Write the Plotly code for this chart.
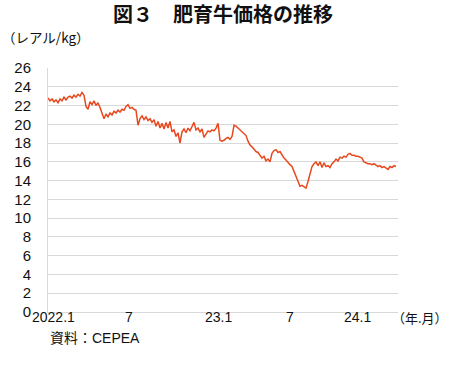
import plotly.graph_objects as go

# Fattened cattle price (reais/kg), sampled evenly over Jan 2022 - early 2024
price = [
    22.8, 22.5, 22.7, 22.4, 22.6, 22.3, 22.7, 22.5, 22.9, 22.6,
    22.9, 23.0, 22.8, 23.1, 22.9, 23.2, 23.0, 23.4, 23.1, 21.9,
    21.6, 22.4, 22.1, 22.5, 22.0, 22.3, 21.8, 21.2, 20.6, 21.1,
    20.8, 21.2, 21.0, 21.4, 21.2, 21.5, 21.3, 21.6, 21.5, 21.9,
    22.1, 21.7, 21.8, 21.6, 21.5, 19.9, 20.6, 20.9, 20.5, 20.8,
    20.4, 20.6, 20.2, 20.5, 19.8, 20.3, 19.6, 20.1, 19.5, 20.2,
    19.6, 20.3, 19.2, 19.4, 18.7, 19.1, 18.0, 19.2, 19.5, 19.1,
    19.6, 19.3, 19.7, 20.2, 19.4, 19.6, 19.2, 19.5, 18.6, 19.0,
    19.3, 19.2, 19.4, 19.3, 19.6, 20.1, 18.3, 18.2, 18.3, 18.5,
    18.6, 18.4, 18.7, 19.9, 19.8, 19.6, 19.4, 19.3, 19.0, 18.8,
    18.2, 17.8, 17.6, 17.3, 17.1, 17.0, 16.7, 16.4, 16.6, 16.1,
    16.3, 16.0, 16.9, 17.2, 17.3, 17.0, 17.1, 16.7, 16.4, 16.2,
    15.9, 15.7, 15.5, 15.0, 14.5, 13.8, 13.4, 13.5, 13.3, 13.2,
    13.9, 14.6, 15.5, 15.8, 16.0, 15.6, 16.0, 15.4, 15.9, 15.5,
    15.6, 15.4, 15.8, 16.0, 16.3, 16.1, 16.5, 16.4, 16.6, 16.5,
    16.8, 16.9, 16.7, 16.7, 16.6, 16.6, 16.5, 16.4, 16.0, 15.9,
    15.8, 15.8, 15.7, 15.8, 15.6, 15.5, 15.6, 15.4, 15.5, 15.3,
    15.2, 15.5, 15.4, 15.6, 15.5,
]
x_tick_labels = ["2022.1", "7", "23.1", "7", "24.1"]
y_tick_values = list(range(0, 27, 2))

title_text = "図３　肥育牛価格の推移"
unit_text = "（レアル/kg）"
xunit_text = "（年.月）"
source_text = "資料：CEPEA"

x = list(range(len(price)))
tick_positions = [2.5, 40.5, 85, 121, 154.5]

LATIN = "Liberation Sans, Arial, Noto Sans CJK JP, sans-serif"
CJK = "Noto Sans CJK JP, sans-serif"
TXT = "#111111"

fig = go.Figure()
fig.add_trace(go.Scatter(
    x=x, y=price, mode="lines",
    line=dict(color="#E8481E", width=1.5),
    hoverinfo="y", showlegend=False,
))

annotations = [
    dict(text=lbl, xref="x", yref="paper", x=pos, y=(312 - 317) / 244,
         xanchor="center", yanchor="middle", showarrow=False,
         font=dict(family=LATIN, size=14, color=TXT))
    for lbl, pos in zip(x_tick_labels, tick_positions)
]
annotations += [
    dict(text=unit_text, xref="paper", yref="paper",
         x=(0 - 48) / 350, y=(312 - 37) / 244, xanchor="left", yanchor="middle",
         showarrow=False, font=dict(family=CJK, size=13.5, color=TXT)),
    dict(text=xunit_text, xref="paper", yref="paper",
         x=(390 - 48) / 350, y=(312 - 317) / 244, xanchor="left", yanchor="middle",
         showarrow=False, font=dict(family=CJK, size=13, color=TXT)),
    dict(text=source_text, xref="paper", yref="paper",
         x=(48 - 48) / 350, y=(312 - 338) / 244, xanchor="left", yanchor="middle",
         showarrow=False, font=dict(family=LATIN, size=14, color=TXT)),
]

fig.update_layout(
    width=450, height=366,
    margin=dict(l=48, r=52, t=68, b=54, autoexpand=False),
    paper_bgcolor="white", plot_bgcolor="white",
    title=dict(text="<b>" + title_text + "</b>", x=0.5, xanchor="center",
               xref="paper", y=1 - 15 / 366, yanchor="middle", yref="container",
               font=dict(family=CJK, size=20, color=TXT)),
    xaxis=dict(range=[0, 175], showgrid=False, zeroline=False,
               showline=True, linecolor="#D9D9D9", linewidth=1,
               showticklabels=False, ticks=""),
    yaxis=dict(range=[0, 26], tickmode="array", tickvals=y_tick_values,
               showgrid=True, gridcolor="#D9D9D9", gridwidth=1, zeroline=False,
               showline=True, linecolor="#D9D9D9", linewidth=1,
               ticks="", ticklabelstandoff=13,
               tickfont=dict(family=LATIN, size=15, color=TXT)),
    annotations=annotations,
)

fig.write_html("out.html", config={"displayModeBar": False},
               post_script="document.body.style.margin='0';")
